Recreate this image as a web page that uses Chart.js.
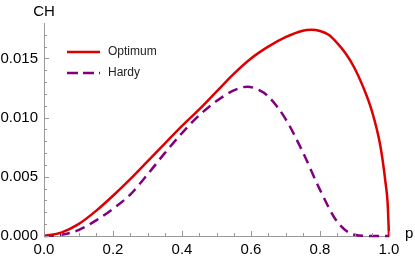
<!DOCTYPE html>
<html>
<head>
<meta charset="utf-8">
<script src="https://cdn.jsdelivr.net/npm/chart.js@4/dist/chart.umd.min.js"></script>
<style>
  html, body { margin: 0; padding: 0; background: #fff; }
  #wrap { width: 415px; height: 257px; position: relative; }
</style>
</head>
<body>
<div id="wrap"><canvas id="chart"></canvas></div>
<script>
// valores
const optimumP  = [0, 0.05, 0.1, 0.15, 0.2, 0.25, 0.3, 0.35, 0.4, 0.45, 0.5, 0.55, 0.6, 0.65, 0.7, 0.75, 0.775, 0.8, 0.825, 0.85, 0.875, 0.9, 0.925, 0.95, 0.975, 0.99, 0.996, 1.0];
const optimumCH = [0, 0.00028, 0.0010, 0.0021, 0.0034, 0.0048, 0.0063, 0.0078, 0.0093, 0.0107, 0.0122, 0.0137, 0.0150, 0.0160, 0.0168, 0.01735, 0.01742, 0.01732, 0.0170, 0.0163, 0.0154, 0.0142, 0.0126, 0.0106, 0.0076, 0.0045, 0.0028, 0];

const hardyP  = [0, 0.05, 0.1, 0.15, 0.2, 0.25, 0.3, 0.35, 0.4, 0.45, 0.5, 0.55, 0.59, 0.625, 0.65, 0.7, 0.75, 0.8, 0.85, 0.9, 0.95, 1.0];
const hardyCH = [0, 0.0001, 0.0005, 0.0013, 0.0023, 0.0035, 0.0052, 0.0070, 0.0087, 0.0102, 0.0114, 0.0123, 0.01262, 0.0123, 0.0118, 0.0099, 0.0071, 0.0039, 0.0012, 0.0001, 0, 0];

const seriesNames = ['Optimum', 'Hardy'];
const xTickLabels = ['0.0', '0.2', '0.4', '0.6', '0.8', '1.0'];
const yTickLabels = ['0.000', '0.005', '0.010', '0.015'];

const RED = 'rgb(220, 0, 0)';
const PURPLE = 'rgb(128, 0, 128)';
const AXIS = 'rgb(153, 153, 153)';
const FONT = 'Liberation Sans';

function toPoints(xs, ys) {
    return xs.map((x, i) => ({ x: x, y: ys[i] }));
}

// ticks menores, titulos de ejes y leyenda
const extras = {
    id: 'extras',
    afterDraw(chart) {
        const ctx = chart.ctx;
        const xs = chart.scales.x, ys = chart.scales.y;
        const x0 = xs.getPixelForValue(0), y0 = ys.getPixelForValue(0);
        ctx.save();
        ctx.strokeStyle = AXIS;
        ctx.lineWidth = 1;
        ctx.beginPath();
        for (let i = 0; i <= 20; i++) {
            const px = Math.round(xs.getPixelForValue(i * 0.05)) + 0.5;
            const len = i % 4 === 0 ? 5 : 3;
            ctx.moveTo(px, y0);
            ctx.lineTo(px, y0 - len);
        }
        for (let i = 0; i <= 17; i++) {
            const py = Math.round(ys.getPixelForValue(i * 0.001)) + 0.5;
            const len = i % 5 === 0 ? 5 : 3;
            ctx.moveTo(x0, py);
            ctx.lineTo(x0 + len, py);
        }
        ctx.stroke();

        ctx.fillStyle = '#000';
        ctx.font = '15px "' + FONT + '"';
        ctx.textAlign = 'center';
        ctx.textBaseline = 'alphabetic';
        ctx.fillText('CH', x0, 16);
        ctx.textAlign = 'left';
        ctx.fillText('p', 405, 238);

        // leyenda
        const items = [
            { label: seriesNames[0], color: RED, dash: [], y: 52 },
            { label: seriesNames[1], color: PURPLE, dash: [11, 5], y: 73 }
        ];
        ctx.font = '12px "' + FONT + '"';
        ctx.textBaseline = 'middle';
        items.forEach(it => {
            ctx.strokeStyle = it.color;
            ctx.lineWidth = 2.5;
            ctx.setLineDash(it.dash);
            ctx.beginPath();
            ctx.moveTo(67, it.y);
            ctx.lineTo(100, it.y);
            ctx.stroke();
            ctx.setLineDash([]);
            ctx.fillStyle = '#222';
            ctx.fillText(it.label, 108, it.y);
        });
        ctx.restore();
    }
};

new Chart(document.getElementById('chart'), {
    type: 'scatter',
    data: {
        datasets: [
            {
                label: seriesNames[0],
                data: toPoints(optimumP, optimumCH),
                showLine: true,
                borderColor: RED,
                borderWidth: 2.5,
                pointRadius: 0,
                cubicInterpolationMode: 'monotone'
            },
            {
                label: seriesNames[1],
                data: toPoints(hardyP, hardyCH),
                showLine: true,
                borderColor: PURPLE,
                borderWidth: 2.5,
                borderDash: [10, 6],
                pointRadius: 0,
                cubicInterpolationMode: 'monotone'
            }
        ]
    },
    options: {
        responsive: true,
        maintainAspectRatio: false,
        animation: false,
        clip: false,
        layout: { padding: { top: 23, right: 26, left: 0, bottom: 0 } },
        plugins: {
            legend: { display: false },
            tooltip: { enabled: false }
        },
        scales: {
            x: {
                type: 'linear',
                min: 0,
                max: 1,
                afterFit(scale) { scale.height = 21; },
                border: { color: AXIS, width: 1 },
                grid: { display: true, drawOnChartArea: false, drawTicks: false },
                ticks: {
                    stepSize: 0.2,
                    padding: 5,
                    color: '#000',
                    font: { family: FONT, size: 15 },
                    maxRotation: 0,
                    autoSkip: false,
                    callback: (v) => xTickLabels[Math.round(v / 0.2)]
                }
            },
            y: {
                type: 'linear',
                min: 0,
                max: 0.018,
                afterFit(scale) { scale.width = 44; },
                border: { color: AXIS, width: 1 },
                grid: { display: true, drawOnChartArea: false, drawTicks: false },
                ticks: {
                    stepSize: 0.005,
                    includeBounds: false,
                    padding: 6,
                    color: '#000',
                    font: { family: FONT, size: 15 },
                    callback: (v) => yTickLabels[Math.round(v / 0.005)]
                }
            }
        }
    },
    plugins: [extras]
});
</script>
</body>
</html>
